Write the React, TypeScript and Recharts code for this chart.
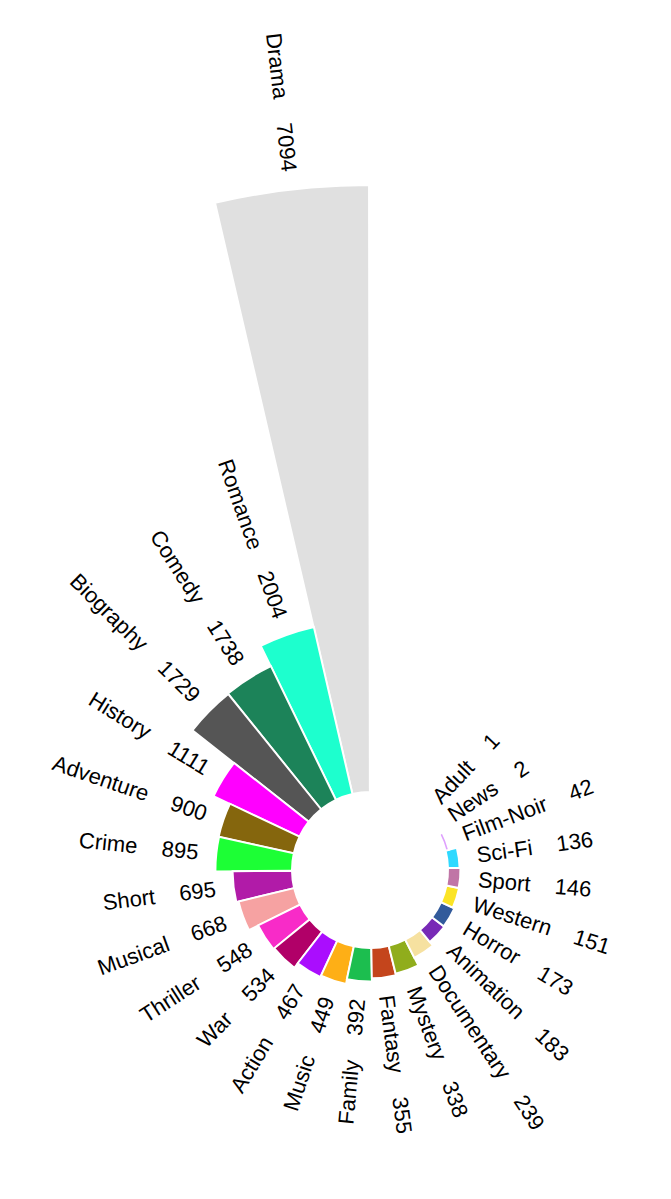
import React from "react";
import {
  RadialBarChart,
  RadialBar,
  PolarAngleAxis,
  PolarRadiusAxis,
  Sector,
} from "recharts";

const genres = [
  "Drama", "Romance", "Comedy", "Biography", "History", "Adventure", "Crime",
  "Short", "Musical", "Thriller", "War", "Action", "Music", "Family", "Fantasy",
  "Mystery", "Documentary", "Animation", "Horror", "Western", "Sport", "Sci-Fi",
  "Film-Noir", "News", "Adult",
];
const counts = [
  7094, 2004, 1738, 1729, 1111, 900, 895, 695, 668, 548, 534, 467, 449, 392,
  355, 338, 239, 183, 173, 151, 146, 136, 42, 2, 1,
];
const colors = [
  "#e0e0e0", "#1dffce", "#1c8359", "#555555", "#ff00ff", "#85660d", "#1cff35",
  "#b11ba8", "#f6a2a2", "#f82bc8", "#b10068", "#aa0dfe", "#feaf16", "#1cbe4f",
  "#c4451c", "#90ad1c", "#f6e1a0", "#782ab6", "#325a9b", "#fbe426", "#c075a6",
  "#2ed9ff", "#dea0fd", "#2ed9ff", "#dea0fd",
];

const data = genres.map((g, i) => ({ name: g, value: counts[i], fill: colors[i] }));

const RAD = Math.PI / 180;

const BarWithLabel = (props: any) => {
  const { cx, cy, innerRadius, outerRadius, startAngle, endAngle, payload } = props;
  const mid = (startAngle + endAngle) / 2;
  const r = outerRadius + 18;
  const x = cx + r * Math.cos(mid * RAD);
  const y = cy - r * Math.sin(mid * RAD);
  const right = Math.cos(mid * RAD) > 0;
  const rot = right ? -mid : 180 - mid;
  return (
    <g>
      <Sector
        cx={cx}
        cy={cy}
        innerRadius={innerRadius}
        outerRadius={outerRadius}
        startAngle={startAngle}
        endAngle={endAngle}
        fill={payload.fill}
        stroke="#ffffff"
        strokeWidth={2}
      />
      <text
        x={x}
        y={y}
        transform={`rotate(${rot}, ${x}, ${y})`}
        textAnchor={right ? "start" : "end"}
        dominantBaseline="central"
        fontSize={22}
        fontFamily="Liberation Sans, Arial, sans-serif"
        fill="#000"
        style={{ whiteSpace: "pre" }}
      >
        {`${payload.name}    ${payload.value}`}
      </text>
    </g>
  );
};

export default function App() {
  return (
    <div style={{ position: "absolute", left: 0, top: 0, width: 671, height: 1199, overflow: "hidden", background: "#fff" }}>
      <RadialBarChart
        width={1400}
        height={1600}
        data={data}
        layout="centric"
        cx={370}
        cy={870}
        innerRadius={78}
        outerRadius={685}
        startAngle={103}
        endAngle={426}
        barCategoryGap={0}
        margin={{ top: 0, right: 0, bottom: 0, left: 0 }}
      >
        <PolarAngleAxis type="category" dataKey="name" tick={false} axisLine={false} tickLine={false} />
        <PolarRadiusAxis type="number" domain={[0, 7094]} tick={false} axisLine={false} tickLine={false} />
        <RadialBar dataKey="value" isAnimationActive={false} shape={BarWithLabel} />
      </RadialBarChart>
    </div>
  );
}
